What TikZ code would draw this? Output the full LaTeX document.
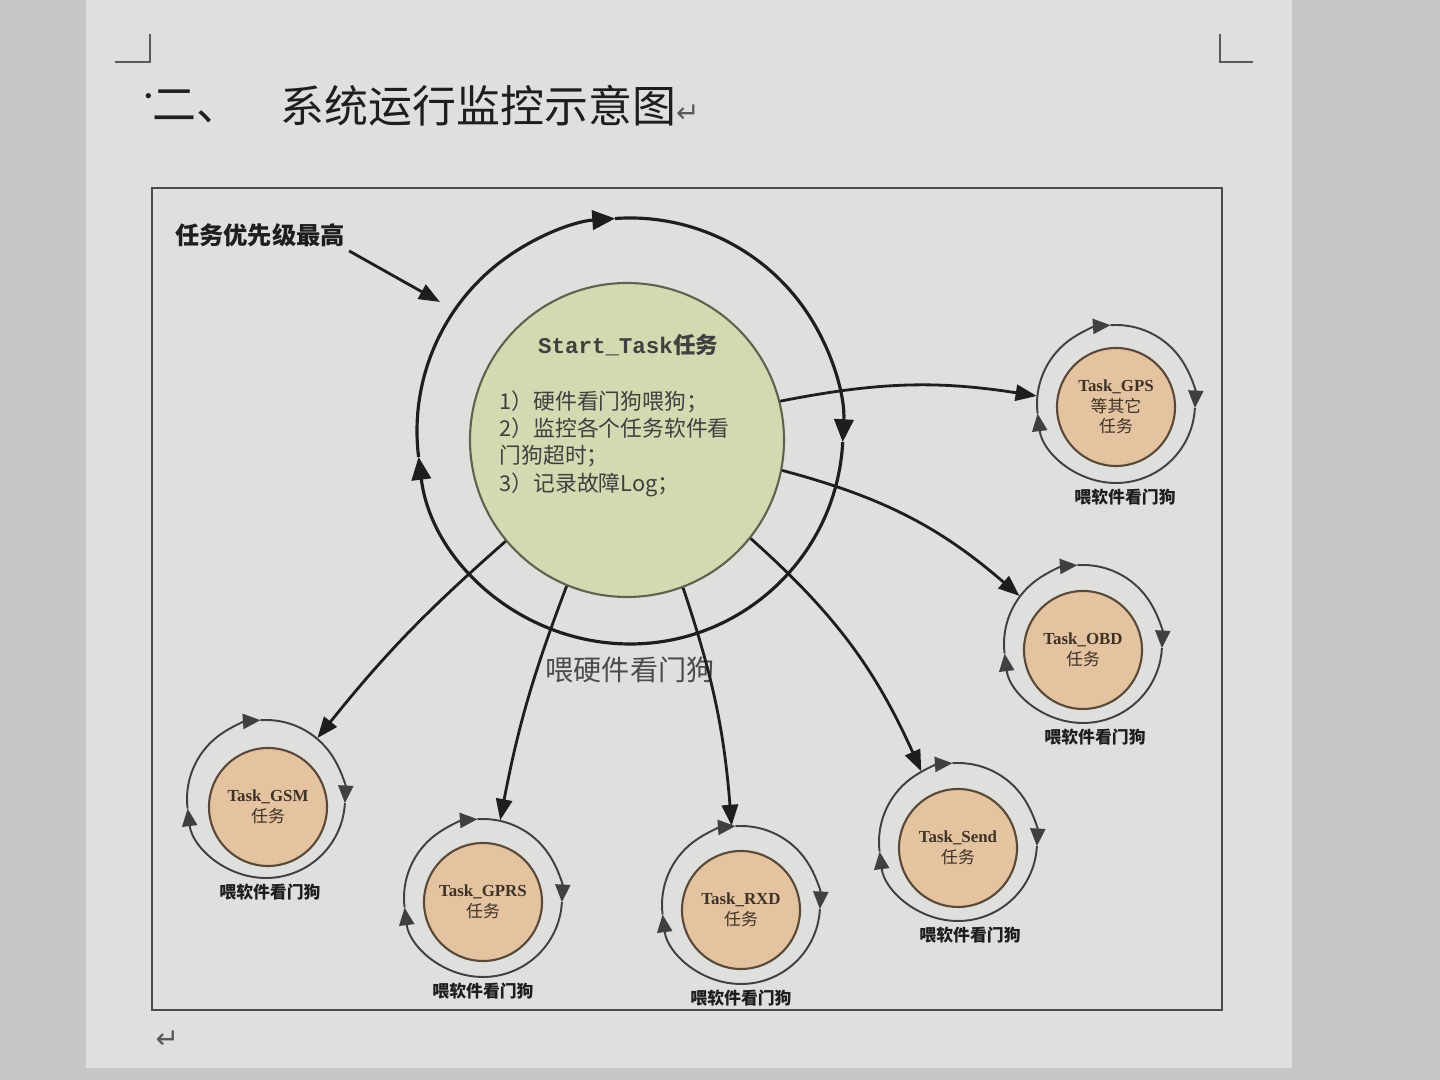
\documentclass[tikz,border=0pt]{standalone}
\usepackage{fontspec}
\setmainfont{Noto Sans CJK SC}
\setmonofont{Liberation Mono}
\newfontfamily\taskfont{Liberation Serif}
\newfontfamily\djvfont{DejaVu Sans}
\usepackage{xcolor}
\usepackage{tikz}
\usetikzlibrary{arrows.meta, positioning, calc}
\definecolor{clrDesk}{HTML}{C6C6C4}
\definecolor{clrPage}{HTML}{DFDFDD}
\definecolor{clrGreenLight}{HTML}{D3D9B0}
\definecolor{clrGreenDark}{HTML}{5E6350}
\definecolor{clrTanLight}{HTML}{E4C3A0}
\definecolor{clrTanDark}{HTML}{5A4838}
\definecolor{clrInk}{HTML}{1E1E1E}
\definecolor{clrMark}{HTML}{5A5A5A}
\newcommand{\retmark}{\djvfont\fontsize{8}{8}\selectfont\color{clrMark}}
% three arrowed arcs round a centre: #1 centre, #2 radius, #3 style
\newcommand{\feedarcs}[3]{%
  \draw[#3] ($(#1)+(187:#2)$) arc[start angle=187, end angle=94, radius=#2];
  \draw[#3] ($(#1)+(94:#2)$) arc[start angle=94, end angle=-3, radius=#2];
  \draw[#3] ($(#1)+(-3:#2)$) arc[start angle=-3, end angle=-173, radius=#2];
}
\tikzset{
  heading/.style={font=\fontsize{12.5}{14}\selectfont, text=clrInk, inner sep=0pt},
  corner mark/.style={draw=clrMark, line width=0.6pt},
  frame/.style={draw=clrInk!80, line width=0.6pt},
  main task/.style={circle, draw=clrGreenDark, fill=clrGreenLight, semithick, minimum size=3.14cm, inner sep=0pt},
  big ring/.style={circle, minimum size=4.26cm, inner sep=0pt},
  sub task/.style={circle, draw=clrTanDark, fill=clrTanLight, semithick, minimum size=1.18cm, inner sep=0pt, align=center, font=\fontsize{4.8}{5.8}\selectfont, text=clrTanDark!70!black},
  sub ring/.style={circle, minimum size=1.58cm, inner sep=0pt},
  dog label/.style={font=\fontsize{4.8}{5.8}\selectfont\bfseries, text=clrInk, inner sep=1pt},
  arr/.style={-{Triangle[length=6pt, width=4.6pt]}, line width=0.8pt, draw=clrInk},
  ring arr/.style={-{Triangle[length=6.5pt, width=5.5pt]}, line width=0.9pt, draw=clrInk},
  sub arr/.style={-{Triangle[length=5pt, width=4.3pt]}, line width=0.55pt, draw=clrInk!85},
}

\begin{document}
\begin{tikzpicture}
  \useasboundingbox (0,0) rectangle (14.4,10.8);
  % photo background and page
  \fill[clrDesk] (0,0) rectangle (14.4,10.8);
  \fill[clrPage] (0.86,0.12) rectangle (12.92,10.8);
  \draw[corner mark] (1.50,10.46) -- (1.50,10.18) -- (1.15,10.18);
  \draw[corner mark] (12.20,10.46) -- (12.20,10.18) -- (12.53,10.18);

  % heading
  \node[heading, font=\fontsize{7}{8}\selectfont, anchor=west] (HDOT) at (1.36,9.80) {·};
  \node[heading, anchor=west] (HNUM) at (1.52,9.74) {二、};
  \node[heading, anchor=west] (HTITLE) at (2.80,9.74) {系统运行监控示意图{\retmark ↵}};
  \node[anchor=west, inner sep=0pt] (RET) at (1.55,0.40) {\retmark ↵};

  % frame
  \draw[frame] (1.52,0.70) rectangle (12.22,8.92);

  % Start task and hardware watchdog ring
  \node[main task] (START) at (6.27,6.40) {};
  \node[font=\fontsize{6.4}{7.7}\selectfont\bfseries, text=clrInk!85] (STITLE) at ($(START)+(0.01,0.95)$) {\ttfamily Start\_Task{\rmfamily 任务}};
  \node[anchor=north west, align=left, inner sep=0pt, font=\fontsize{6.2}{7.75}\selectfont, text=clrInk!85] (SLIST) at ($(START)+(-1.28,0.50)$)
    {1）硬件看门狗喂狗；\\2）监控各个任务软件看\\门狗超时；\\3）记录故障Log；};
  \node[big ring] (BIGR) at (6.30,6.49) {};
  \feedarcs{BIGR.center}{2.13}{ring arr}
  \node[font=\fontsize{8}{9}\selectfont, text=clrInk!80, inner sep=1pt, below=0.08cm of BIGR] (HWDOG) {喂硬件看门狗};

  \node[font=\fontsize{6.9}{8}\selectfont\bfseries, text=clrInk, inner sep=1pt] (PRIO) at (2.60,8.45) {任务优先级最高};
  \coordinate (PRIOTIP) at (4.40,7.78);
  \draw[arr] (PRIO.south east) -- (PRIOTIP);

  % tasks
  \node[sub task] (GPS) at (11.16,6.73) {{\taskfont\bfseries Task\_GPS}\\等其它\\任务};
  \node[sub ring] (GPSR) at ($(GPS)+(0,0.03)$) {};
  \feedarcs{GPSR.center}{0.79}{sub arr}
  \node[dog label, below=0.01cm of GPSR, xshift=0.09cm] (GPSL) {喂软件看门狗};

  \node[sub task] (OBD) at (10.83,4.30) {{\taskfont\bfseries Task\_OBD}\\任务};
  \node[sub ring] (OBDR) at ($(OBD)+(0,0.06)$) {};
  \feedarcs{OBDR.center}{0.79}{sub arr}
  \node[dog label, below=0.01cm of OBDR, xshift=0.12cm] (OBDL) {喂软件看门狗};

  \node[sub task] (SEND) at (9.58,2.32) {{\taskfont\bfseries Task\_Send}\\任务};
  \node[sub ring] (SENDR) at ($(SEND)+(0,0.06)$) {};
  \feedarcs{SENDR.center}{0.79}{sub arr}
  \node[dog label, below=0.01cm of SENDR, xshift=0.12cm] (SENDL) {喂软件看门狗};

  \node[sub task] (RXD) at (7.41,1.70) {{\taskfont\bfseries Task\_RXD}\\任务};
  \node[sub ring] (RXDR) at ($(RXD)+(0,0.05)$) {};
  \feedarcs{RXDR.center}{0.79}{sub arr}
  \node[dog label, below=0.01cm of RXDR] (RXDL) {喂软件看门狗};

  \node[sub task] (GPRS) at (4.83,1.78) {{\taskfont\bfseries Task\_GPRS}\\任务};
  \node[sub ring] (GPRSR) at ($(GPRS)+(0,0.04)$) {};
  \feedarcs{GPRSR.center}{0.79}{sub arr}
  \node[dog label, below=0.01cm of GPRSR] (GPRSL) {喂软件看门狗};

  \node[sub task] (GSM) at (2.68,2.73) {{\taskfont\bfseries Task\_GSM}\\任务};
  \node[sub ring] (GSMR) at ($(GSM)+(-0.02,0.08)$) {};
  \feedarcs{GSMR.center}{0.79}{sub arr}
  \node[dog label, below=0.01cm of GSMR, xshift=0.04cm] (GSML) {喂软件看门狗};

  % watchdog links
  \draw[arr] (START) to[bend left=10] (GPSR);
  \draw[arr] (START) to[bend left=13] (OBDR);
  \draw[arr] (START) to[bend left=12] (SENDR);
  \draw[arr] (START) to[bend left=7] (RXDR);
  \draw[arr] (START) to[bend right=5] (GPRSR);
  \draw[arr] (START) to[bend right=5] (GSMR);
\end{tikzpicture}
\end{document}
